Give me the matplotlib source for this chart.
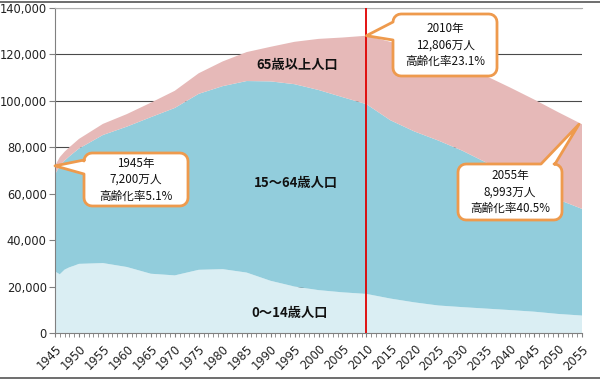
import matplotlib
matplotlib.use("Agg")
import matplotlib.pyplot as plt
from matplotlib.patches import Polygon
from matplotlib.transforms import IdentityTransform
from matplotlib.ticker import MultipleLocator, FuncFormatter
import numpy as np

plt.rcParams['font.family'] = ['DejaVu Sans']

# ---- data (thousands of people) ----
years = [1945, 1946, 1947, 1948, 1949, 1950, 1955, 1960, 1965, 1970, 1975, 1980,
         1985, 1990, 1995, 2000, 2005, 2010, 2015, 2020, 2025, 2030, 2035, 2040,
         2045, 2050, 2055]
age_0_14 = [26500, 25300, 27300, 28300, 29000, 29786, 30123, 28434, 25529, 24823,
            27221, 27507, 26033, 22486, 20014, 18472, 17521, 16839, 14842, 13201,
            11852, 11150, 10512, 9876, 9186, 8214, 7516]
age_15_64 = [41800, 46650, 46950, 47800, 48800, 49661, 55167, 60469, 67444, 72119,
             75807, 78835, 82506, 85904, 87165, 86220, 84092, 81735, 76807, 73635,
             71064, 67404, 62919, 57335, 53000, 49297, 45951]
age_65 = [3700, 3800, 3850, 3900, 4000, 4155, 4786, 5398, 6236, 7393, 8865, 10647,
          12468, 14895, 18261, 22005, 25672, 29484, 33781, 35899, 36354, 36670,
          37249, 38527, 38407, 37641, 36463]

series_labels = ["0～14歳人口", "15～64歳人口", "65歳以上人口"]
marker_year = 2010
callout_years = [1945, 2010, 2055]
callout_texts = [["1945年", "7,200万人", "高齢化率5.1%"],
                 ["2010年", "12,806万人", "高齢化率23.1%"],
                 ["2055年", "8,993万人", "高齢化率40.5%"]]

W, H = 600, 380
c_light = "#DAEEF3"
c_mid = "#92CDDC"
c_pink = "#E6B9B8"
c_orange = "#EE9A4D"
jp = ['Noto Sans CJK JP', 'DejaVu Sans']

fig = plt.figure(figsize=(W / 100, H / 100), dpi=100)
fig.patch.set_facecolor("white")
ax = fig.add_axes([55 / W, 47 / H, 527 / W, 325 / H])

ax.stackplot(years, age_0_14, age_15_64, age_65,
             colors=[c_light, c_mid, c_pink], linewidth=0, zorder=1)
ax.axvline(marker_year, color="#E00000", lw=1.3, zorder=3)

ax.set_xlim(1945, 2055)
ax.set_ylim(0, 140000)
ax.set_axisbelow(True)
ax.yaxis.set_major_locator(MultipleLocator(20000))
ax.yaxis.set_major_formatter(FuncFormatter(lambda v, p: f"{int(v):,}"))
ax.grid(axis="y", color="#4a4a4a", lw=0.8, zorder=0)
ax.xaxis.set_major_locator(MultipleLocator(5))
ax.xaxis.set_minor_locator(MultipleLocator(1))
ax.xaxis.set_major_formatter(FuncFormatter(lambda v, p: f"{int(v)}"))

ax.spines["right"].set_visible(False)
ax.spines["top"].set_color("#b0b0b0")
ax.spines["left"].set_color("#808080")
ax.spines["bottom"].set_color("#808080")
ax.tick_params(axis="y", length=4, color="#808080", labelsize=8.3, pad=2,
               labelcolor="#222222")
ax.tick_params(axis="x", which="both", length=3, color="#808080",
               labelsize=8.3, pad=4, labelcolor="#222222")
for lab in ax.get_xticklabels():
    lab.set_rotation(45)
    lab.set_ha("right")
    lab.set_rotation_mode("anchor")

# area labels
area_label_pos = [(290, 313), (296, 183), (297, 65)]
for (px, py), txt in zip(area_label_pos, series_labels):
    fig.text(px / W, 1 - py / H, txt, ha="center", va="center",
             fontsize=9.5, fontweight="bold", family=jp, color="#111111")

# callouts
fig.canvas.draw()
totals = [a + b + c for a, b, c in zip(age_0_14, age_15_64, age_65)]


def rounded_outline(x0, y0, x1, y1, r, side, b1, b2, tip):
    """pixel coords, y downward. returns list of points"""
    pts = []
    n = 6

    def arc(cx, cy, a0, a1):
        for t in np.linspace(a0, a1, n):
            pts.append((cx + r * np.cos(t), cy + r * np.sin(t)))
    arc(x0 + r, y0 + r, np.pi, 1.5 * np.pi)
    if side == "top":
        pts.extend([(b1, y0), tip, (b2, y0)])
    arc(x1 - r, y0 + r, 1.5 * np.pi, 2 * np.pi)
    arc(x1 - r, y1 - r, 0, 0.5 * np.pi)
    arc(x0 + r, y1 - r, 0.5 * np.pi, np.pi)
    if side == "left":
        pts.extend([(x0, b2), tip, (x0, b1)])
    return pts


boxes = [(84, 153, 188, 206, "left", 160, 174),
         (393, 14, 497, 76, "left", 22, 40),
         (458, 164, 562, 220, "top", 541, 555)]

for (x0, y0, x1, y1, side, b1, b2), yr, lines in zip(boxes, callout_years, callout_texts):
    idx = years.index(yr)
    dx, dy = ax.transData.transform((yr, totals[idx]))
    tip = (dx - (3 if side == "top" else 0), H - dy)
    pts = rounded_outline(x0, y0, x1, y1, 8, side, b1, b2, tip)
    disp = [(p[0], H - p[1]) for p in pts]
    poly = Polygon(disp, closed=True, transform=IdentityTransform(),
                   facecolor="white", edgecolor=c_orange, lw=2.0, zorder=10,
                   joinstyle="round")
    fig.add_artist(poly)
    cx = (x0 + x1) / 2
    cy = (y0 + y1) / 2
    for k, t in enumerate(lines):
        ly = cy + (k - 1) * 16.5
        fig.text(cx / W, 1 - ly / H, t, ha="center", va="center", fontsize=8.4,
                 family=jp, color="#111111", zorder=11)

# outer frame lines (top & bottom)
fig.add_artist(plt.Line2D([0, 1], [1 - 1.5 / H, 1 - 1.5 / H], transform=fig.transFigure,
                          color="#555555", lw=1.2))
fig.add_artist(plt.Line2D([0, 1], [2 / H, 2 / H], transform=fig.transFigure,
                          color="#555555", lw=1.2))

fig.savefig("out.png", dpi=100)
